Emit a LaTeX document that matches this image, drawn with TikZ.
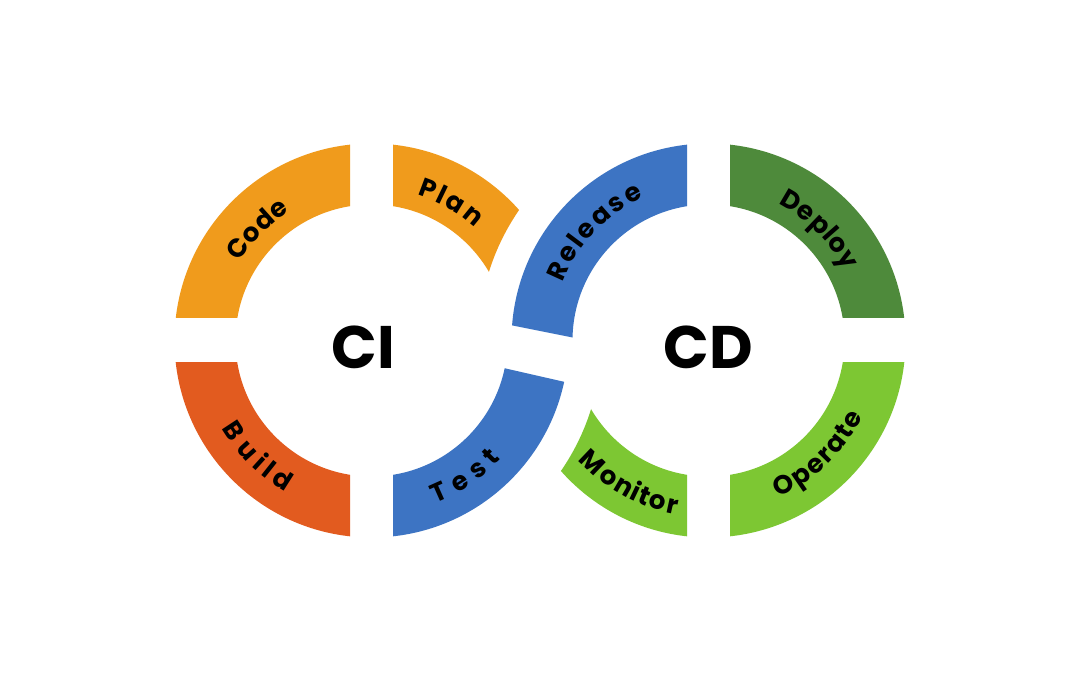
\documentclass[tikz,border=0pt]{standalone}
\usepackage{fontspec}
\usetikzlibrary{decorations.text}
\newfontfamily\labfont{Poppins}
\definecolor{corange}{HTML}{F09B1C}
\definecolor{cred}{HTML}{E25B1F}
\definecolor{cblue}{HTML}{3D74C3}
\definecolor{cdgreen}{HTML}{4E8A3B}
\definecolor{clgreen}{HTML}{7DC733}
\newcommand\ringfill[2]{\fill[#2, even odd rule] (#1) circle[radius=197pt] (#1) circle[radius=136pt];}
\tikzset{
  arctext/.style={decorate, decoration={text effects along path, text={#1},
     text effects/.cd, text along path, fit text to path,
     every character/.append style={font=\labfont\bfseries\fontsize{26}{26}\selectfont, text=black}}},
  bigtext/.style={font=\labfont\bfseries\fontsize{60}{60}\selectfont, inner sep=0pt, text=black}
}
% top label: clockwise arc, tops outward
\newcommand\toplabel[5]{\path[arctext={#5}] ([shift={(#2+#3/2:#4pt)}]#1) arc[start angle=#2+#3/2, end angle=#2-#3/2, radius=#4pt];}
% bottom label: counter-clockwise arc, tops inward
\newcommand\botlabel[5]{\path[arctext={#5}] ([shift={(#2-#3/2:#4pt)}]#1) arc[start angle=#2-#3/2, end angle=#2+#3/2, radius=#4pt];}
\begin{document}
\begin{tikzpicture}[x=1pt,y=1pt]
\fill[white] (0,0) rectangle (1080,700);
\useasboundingbox (0,0) rectangle (1080,700);
\coordinate (CL) at (371.5,359.5);
\coordinate (CR) at (708.5,359.5);

% Code
\begin{scope}
\clip (0,382) rectangle (350,700);
\ringfill{CL}{corange}
\end{scope}
% Build
\begin{scope}
\clip (0,0) rectangle (350,337);
\ringfill{CL}{cred}
\end{scope}
% Plan
\begin{scope}[even odd rule]
\clip (393,359.5) rectangle (700,700);
\clip (0,0) rectangle (1080,700) (CR) circle[radius=230pt];
\ringfill{CL}{corange}
\end{scope}
% Test
\begin{scope}
\clip (393,357.2) -- (600,310) -- (600,0) -- (393,0) -- cycle;
\ringfill{CL}{cblue}
\end{scope}
% Release
\begin{scope}
\clip (400,397) -- (687,339.6) -- (687,700) -- (400,700) -- cycle;
\ringfill{CR}{cblue}
\end{scope}
% Monitor
\begin{scope}[even odd rule]
\clip (400,0) rectangle (687,359.5);
\clip (0,0) rectangle (1080,700) (CL) circle[radius=230pt];
\ringfill{CR}{clgreen}
\end{scope}
% Deploy
\begin{scope}
\clip (730,382) rectangle (1080,700);
\ringfill{CR}{cdgreen}
\end{scope}
% Operate
\begin{scope}
\clip (730,0) rectangle (1080,337);
\ringfill{CR}{clgreen}
\end{scope}

% labels
\toplabel{CL}{135.7}{27}{153}{Code}
\toplabel{CL}{60}{25}{153}{Plan}
\toplabel{CR}{136.5}{44}{157}{Release}
\toplabel{CR}{45}{36}{153}{Deploy}
\botlabel{CL}{225.5}{30}{174}{Build}
\botlabel{CL}{-55.5}{26}{175}{Test}
\botlabel{CR}{241}{37}{177}{Monitor}
\botlabel{CR}{-46}{40}{172}{Operate}

\node[bigtext] (ci) at (363,353) {CI};
\node[bigtext] (cd) at (708,353) {CD};
\end{tikzpicture}
\end{document}
